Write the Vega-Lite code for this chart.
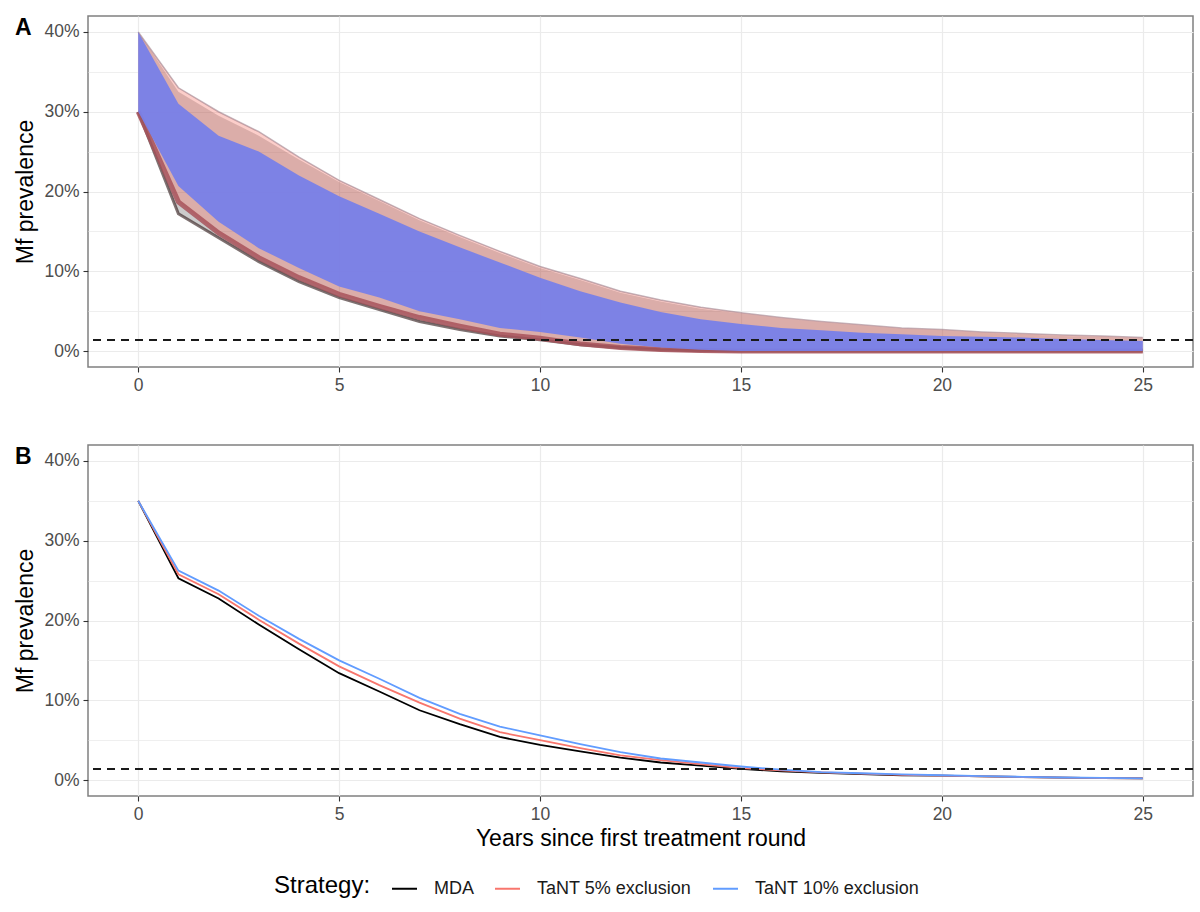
{
  "$schema": "https://vega.github.io/schema/vega-lite/v6.json",
  "padding": {"left": 14, "top": 15, "right": 6, "bottom": 5},
  "background": "white",
  "spacing": 49,
  "config": {
    "font": "Liberation Sans",
    "view": {"stroke": "#808080", "strokeWidth": 1.5},
    "axis": {
      "labelFontSize": 17.5, "labelColor": "#4D4D4D", "labelFont": "Liberation Sans",
      "titleFontSize": 23, "titleFontWeight": "normal", "titleColor": "#000000", "titleFont": "Liberation Sans",
      "tickColor": "#333333", "tickSize": 5, "tickWidth": 1.1,
      "gridColor": "#EBEBEB", "domain": false, "labelPadding": 4
    },
    "title": {"fontSize": 23, "fontWeight": "bold", "color": "#000000", "anchor": "start", "frame": "bounds", "font": "Liberation Sans"}
  },
  "datasets": {
    "fan": [
      {"t": 0, "mda_lo": 0.30, "mda_hi": 0.40, "t5_lo": 0.30, "t5_hi": 0.40, "t10_lo": 0.30, "t10_hi": 0.40},
      {"t": 1, "mda_lo": 0.172, "mda_hi": 0.325, "t5_lo": 0.187, "t5_hi": 0.33, "t10_lo": 0.207, "t10_hi": 0.31},
      {"t": 2, "mda_lo": 0.142, "mda_hi": 0.295, "t5_lo": 0.148, "t5_hi": 0.30, "t10_lo": 0.162, "t10_hi": 0.27},
      {"t": 3, "mda_lo": 0.112, "mda_hi": 0.27, "t5_lo": 0.117, "t5_hi": 0.275, "t10_lo": 0.129, "t10_hi": 0.25},
      {"t": 4, "mda_lo": 0.087, "mda_hi": 0.24, "t5_lo": 0.092, "t5_hi": 0.243, "t10_lo": 0.104, "t10_hi": 0.22},
      {"t": 5, "mda_lo": 0.067, "mda_hi": 0.212, "t5_lo": 0.071, "t5_hi": 0.214, "t10_lo": 0.081, "t10_hi": 0.194},
      {"t": 6, "mda_lo": 0.052, "mda_hi": 0.188, "t5_lo": 0.056, "t5_hi": 0.19, "t10_lo": 0.067, "t10_hi": 0.172},
      {"t": 7, "mda_lo": 0.037, "mda_hi": 0.164, "t5_lo": 0.042, "t5_hi": 0.166, "t10_lo": 0.05, "t10_hi": 0.15},
      {"t": 8, "mda_lo": 0.027, "mda_hi": 0.143, "t5_lo": 0.031, "t5_hi": 0.145, "t10_lo": 0.04, "t10_hi": 0.13},
      {"t": 9, "mda_lo": 0.019, "mda_hi": 0.123, "t5_lo": 0.021, "t5_hi": 0.125, "t10_lo": 0.029, "t10_hi": 0.111},
      {"t": 10, "mda_lo": 0.014, "mda_hi": 0.104, "t5_lo": 0.016, "t5_hi": 0.106, "t10_lo": 0.024, "t10_hi": 0.092},
      {"t": 11, "mda_lo": 0.008, "mda_hi": 0.089, "t5_lo": 0.009, "t5_hi": 0.091, "t10_lo": 0.017, "t10_hi": 0.075},
      {"t": 12, "mda_lo": 0.004, "mda_hi": 0.073, "t5_lo": 0.0045, "t5_hi": 0.075, "t10_lo": 0.009, "t10_hi": 0.061},
      {"t": 13, "mda_lo": 0.0015, "mda_hi": 0.062, "t5_lo": 0.002, "t5_hi": 0.064, "t10_lo": 0.0045, "t10_hi": 0.049},
      {"t": 14, "mda_lo": 0.0005, "mda_hi": 0.053, "t5_lo": 0.0008, "t5_hi": 0.055, "t10_lo": 0.0015, "t10_hi": 0.04},
      {"t": 15, "mda_lo": 0, "mda_hi": 0.047, "t5_lo": 0, "t5_hi": 0.048, "t10_lo": 0, "t10_hi": 0.034},
      {"t": 16, "mda_lo": 0, "mda_hi": 0.041, "t5_lo": 0, "t5_hi": 0.042, "t10_lo": 0, "t10_hi": 0.029},
      {"t": 17, "mda_lo": 0, "mda_hi": 0.036, "t5_lo": 0, "t5_hi": 0.037, "t10_lo": 0, "t10_hi": 0.026},
      {"t": 18, "mda_lo": 0, "mda_hi": 0.032, "t5_lo": 0, "t5_hi": 0.033, "t10_lo": 0, "t10_hi": 0.023},
      {"t": 19, "mda_lo": 0, "mda_hi": 0.028, "t5_lo": 0, "t5_hi": 0.029, "t10_lo": 0, "t10_hi": 0.021},
      {"t": 20, "mda_lo": 0, "mda_hi": 0.026, "t5_lo": 0, "t5_hi": 0.027, "t10_lo": 0, "t10_hi": 0.019},
      {"t": 21, "mda_lo": 0, "mda_hi": 0.023, "t5_lo": 0, "t5_hi": 0.024, "t10_lo": 0, "t10_hi": 0.018},
      {"t": 22, "mda_lo": 0, "mda_hi": 0.021, "t5_lo": 0, "t5_hi": 0.022, "t10_lo": 0, "t10_hi": 0.017},
      {"t": 23, "mda_lo": 0, "mda_hi": 0.019, "t5_lo": 0, "t5_hi": 0.02, "t10_lo": 0, "t10_hi": 0.015},
      {"t": 24, "mda_lo": 0, "mda_hi": 0.018, "t5_lo": 0, "t5_hi": 0.019, "t10_lo": 0, "t10_hi": 0.014},
      {"t": 25, "mda_lo": 0, "mda_hi": 0.016, "t5_lo": 0, "t5_hi": 0.017, "t10_lo": 0, "t10_hi": 0.0125}
    ],
    "mean": [
      {"t": 0, "strategy": "MDA", "p": 0.35}, {"t": 0, "strategy": "TaNT 5% exclusion", "p": 0.35}, {"t": 0, "strategy": "TaNT 10% exclusion", "p": 0.35},
      {"t": 1, "strategy": "MDA", "p": 0.253}, {"t": 1, "strategy": "TaNT 5% exclusion", "p": 0.258}, {"t": 1, "strategy": "TaNT 10% exclusion", "p": 0.2625},
      {"t": 2, "strategy": "MDA", "p": 0.2275}, {"t": 2, "strategy": "TaNT 5% exclusion", "p": 0.233}, {"t": 2, "strategy": "TaNT 10% exclusion", "p": 0.2375},
      {"t": 3, "strategy": "MDA", "p": 0.195}, {"t": 3, "strategy": "TaNT 5% exclusion", "p": 0.201}, {"t": 3, "strategy": "TaNT 10% exclusion", "p": 0.206},
      {"t": 4, "strategy": "MDA", "p": 0.164}, {"t": 4, "strategy": "TaNT 5% exclusion", "p": 0.171}, {"t": 4, "strategy": "TaNT 10% exclusion", "p": 0.177},
      {"t": 5, "strategy": "MDA", "p": 0.134}, {"t": 5, "strategy": "TaNT 5% exclusion", "p": 0.1425}, {"t": 5, "strategy": "TaNT 10% exclusion", "p": 0.15},
      {"t": 6, "strategy": "MDA", "p": 0.111}, {"t": 6, "strategy": "TaNT 5% exclusion", "p": 0.119}, {"t": 6, "strategy": "TaNT 10% exclusion", "p": 0.127},
      {"t": 7, "strategy": "MDA", "p": 0.0875}, {"t": 7, "strategy": "TaNT 5% exclusion", "p": 0.097}, {"t": 7, "strategy": "TaNT 10% exclusion", "p": 0.103},
      {"t": 8, "strategy": "MDA", "p": 0.07}, {"t": 8, "strategy": "TaNT 5% exclusion", "p": 0.077}, {"t": 8, "strategy": "TaNT 10% exclusion", "p": 0.083},
      {"t": 9, "strategy": "MDA", "p": 0.054}, {"t": 9, "strategy": "TaNT 5% exclusion", "p": 0.06}, {"t": 9, "strategy": "TaNT 10% exclusion", "p": 0.067},
      {"t": 10, "strategy": "MDA", "p": 0.044}, {"t": 10, "strategy": "TaNT 5% exclusion", "p": 0.05}, {"t": 10, "strategy": "TaNT 10% exclusion", "p": 0.056},
      {"t": 11, "strategy": "MDA", "p": 0.036}, {"t": 11, "strategy": "TaNT 5% exclusion", "p": 0.04}, {"t": 11, "strategy": "TaNT 10% exclusion", "p": 0.045},
      {"t": 12, "strategy": "MDA", "p": 0.028}, {"t": 12, "strategy": "TaNT 5% exclusion", "p": 0.031}, {"t": 12, "strategy": "TaNT 10% exclusion", "p": 0.035},
      {"t": 13, "strategy": "MDA", "p": 0.022}, {"t": 13, "strategy": "TaNT 5% exclusion", "p": 0.025}, {"t": 13, "strategy": "TaNT 10% exclusion", "p": 0.027},
      {"t": 14, "strategy": "MDA", "p": 0.018}, {"t": 14, "strategy": "TaNT 5% exclusion", "p": 0.02}, {"t": 14, "strategy": "TaNT 10% exclusion", "p": 0.022},
      {"t": 15, "strategy": "MDA", "p": 0.014}, {"t": 15, "strategy": "TaNT 5% exclusion", "p": 0.015}, {"t": 15, "strategy": "TaNT 10% exclusion", "p": 0.017},
      {"t": 16, "strategy": "MDA", "p": 0.011}, {"t": 16, "strategy": "TaNT 5% exclusion", "p": 0.012}, {"t": 16, "strategy": "TaNT 10% exclusion", "p": 0.013},
      {"t": 17, "strategy": "MDA", "p": 0.009}, {"t": 17, "strategy": "TaNT 5% exclusion", "p": 0.0095}, {"t": 17, "strategy": "TaNT 10% exclusion", "p": 0.01},
      {"t": 18, "strategy": "MDA", "p": 0.0075}, {"t": 18, "strategy": "TaNT 5% exclusion", "p": 0.008}, {"t": 18, "strategy": "TaNT 10% exclusion", "p": 0.0085},
      {"t": 19, "strategy": "MDA", "p": 0.006}, {"t": 19, "strategy": "TaNT 5% exclusion", "p": 0.0065}, {"t": 19, "strategy": "TaNT 10% exclusion", "p": 0.007},
      {"t": 20, "strategy": "MDA", "p": 0.0055}, {"t": 20, "strategy": "TaNT 5% exclusion", "p": 0.0055}, {"t": 20, "strategy": "TaNT 10% exclusion", "p": 0.006},
      {"t": 21, "strategy": "MDA", "p": 0.0045}, {"t": 21, "strategy": "TaNT 5% exclusion", "p": 0.0045}, {"t": 21, "strategy": "TaNT 10% exclusion", "p": 0.005},
      {"t": 22, "strategy": "MDA", "p": 0.0038}, {"t": 22, "strategy": "TaNT 5% exclusion", "p": 0.0038}, {"t": 22, "strategy": "TaNT 10% exclusion", "p": 0.004},
      {"t": 23, "strategy": "MDA", "p": 0.003}, {"t": 23, "strategy": "TaNT 5% exclusion", "p": 0.003}, {"t": 23, "strategy": "TaNT 10% exclusion", "p": 0.0032},
      {"t": 24, "strategy": "MDA", "p": 0.0025}, {"t": 24, "strategy": "TaNT 5% exclusion", "p": 0.0025}, {"t": 24, "strategy": "TaNT 10% exclusion", "p": 0.0026},
      {"t": 25, "strategy": "MDA", "p": 0.002}, {"t": 25, "strategy": "TaNT 5% exclusion", "p": 0.002}, {"t": 25, "strategy": "TaNT 10% exclusion", "p": 0.002}
    ],
    "thr": [{"threshold": 0.014}]
  },
  "vconcat": [
    {
      "width": 1105,
      "height": 351,
      "title": {"text": "A", "offset": -24},
      "layer": [
        {
          "data": {"name": "fan"},
          "mark": {"type": "area", "color": "#000000", "opacity": 0.2},
          "encoding": {
            "x": {"field": "t", "type": "quantitative",
                  "scale": {"domain": [-1.25, 26.25], "nice": false, "zero": false},
                  "axis": {"values": [0, 5, 10, 15, 20, 25], "title": null, "gridWidth": 1.2, "labelFlush": false}},
            "y": {"field": "mda_lo", "type": "quantitative", "scale": {"domain": [-0.02, 0.42], "nice": false, "zero": false},
                  "axis": {"values": [0, 0.05, 0.1, 0.15, 0.2, 0.25, 0.3, 0.35, 0.4], "format": ".0%",
                           "labelExpr": "round(datum.value*100) % 10 == 0 ? datum.label : ''",
                           "tickOpacity": {"condition": {"test": "round(datum.value*100) % 10 != 0", "value": 0}, "value": 1},
                           "gridWidth": {"condition": {"test": "round(datum.value*100) % 10 != 0", "value": 0.8}, "value": 1.2},
                           "title": "Mf prevalence", "titlePadding": 6}},
            "y2": {"field": "mda_hi"}
          }
        },
        {
          "data": {"name": "fan"},
          "mark": {"type": "area", "color": "#F8766D", "opacity": 0.36},
          "encoding": {
            "x": {"field": "t", "type": "quantitative"},
            "y": {"field": "t5_lo", "type": "quantitative", "title": "Mf prevalence"},
            "y2": {"field": "t5_hi"}
          }
        },
        {
          "data": {"name": "fan"},
          "mark": {"type": "line", "color": "#2a1414", "opacity": 0.6, "strokeWidth": 3},
          "encoding": {
            "x": {"field": "t", "type": "quantitative"},
            "y": {"field": "mda_lo", "type": "quantitative", "title": "Mf prevalence"}}
        },
        {
          "data": {"name": "fan"},
          "mark": {"type": "line", "color": "#A8525A", "opacity": 0.85, "strokeWidth": 5},
          "encoding": {
            "x": {"field": "t", "type": "quantitative"},
            "y": {"field": "t5_lo", "type": "quantitative", "title": "Mf prevalence"}}
        },
        {
          "data": {"name": "fan"},
          "mark": {"type": "line", "color": "#8a6a78", "opacity": 0.5, "strokeWidth": 1.5},
          "encoding": {
            "x": {"field": "t", "type": "quantitative"},
            "y": {"field": "t5_hi", "type": "quantitative", "title": "Mf prevalence"}}
        },
        {
          "data": {"name": "fan"},
          "mark": {"type": "area", "color": "#7880E8", "opacity": 0.95},
          "encoding": {
            "x": {"field": "t", "type": "quantitative"},
            "y": {"field": "t10_lo", "type": "quantitative", "title": "Mf prevalence"},
            "y2": {"field": "t10_hi"}
          }
        },
        {
          "data": {"name": "thr"},
          "mark": {"type": "rule", "color": "#1a1a1a", "strokeDash": [8, 6], "strokeWidth": 2},
          "encoding": {"y": {"field": "threshold", "type": "quantitative", "title": "Mf prevalence"}}
        }
      ]
    },
    {
      "width": 1105,
      "height": 351,
      "title": {"text": "B", "offset": -24},
      "layer": [
        {
          "data": {"name": "mean"},
          "mark": {"type": "line", "strokeWidth": 1.8},
          "encoding": {
            "x": {"field": "t", "type": "quantitative",
                  "scale": {"domain": [-1.25, 26.25], "nice": false, "zero": false},
                  "axis": {"values": [0, 5, 10, 15, 20, 25], "title": "Years since first treatment round", "gridWidth": 1.2, "labelFlush": false, "titlePadding": 5}},
            "y": {"field": "p", "type": "quantitative", "scale": {"domain": [-0.02, 0.42], "nice": false, "zero": false},
                  "axis": {"values": [0, 0.05, 0.1, 0.15, 0.2, 0.25, 0.3, 0.35, 0.4], "format": ".0%",
                           "labelExpr": "round(datum.value*100) % 10 == 0 ? datum.label : ''",
                           "tickOpacity": {"condition": {"test": "round(datum.value*100) % 10 != 0", "value": 0}, "value": 1},
                           "gridWidth": {"condition": {"test": "round(datum.value*100) % 10 != 0", "value": 0.8}, "value": 1.2},
                           "title": "Mf prevalence", "titlePadding": 6}},
            "color": {"field": "strategy", "type": "nominal",
                      "scale": {"domain": ["MDA", "TaNT 5% exclusion", "TaNT 10% exclusion"], "range": ["#000000", "#F8766D", "#619CFF"]},
                      "legend": {"orient": "none", "legendX": 186, "legendY": 859, "direction": "horizontal",
                                 "title": "Strategy:", "titleOrient": "left", "titleFontSize": 24, "titleFontWeight": "normal", "titleColor": "#000000",
                                 "titlePadding": 20, "titleBaseline": "middle",
                                 "symbolType": "stroke", "symbolSize": 625, "symbolStrokeWidth": 2,
                                 "labelFontSize": 18, "labelColor": "#1a1a1a", "labelOffset": 16, "columnPadding": 17, "labelLimit": 400}},
            "order": {"field": "t"}
          }
        },
        {
          "data": {"name": "thr"},
          "mark": {"type": "rule", "color": "#1a1a1a", "strokeDash": [8, 6], "strokeWidth": 2},
          "encoding": {"y": {"field": "threshold", "type": "quantitative"}}
        }
      ]
    }
  ]
}
